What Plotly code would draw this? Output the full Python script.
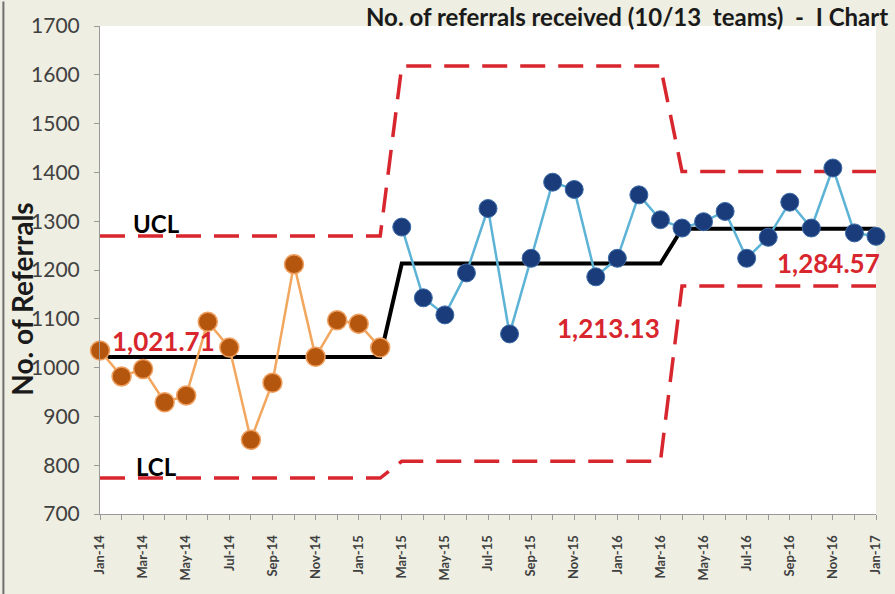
import plotly.graph_objects as go

months = ["Jan-14","Feb-14","Mar-14","Apr-14","May-14","Jun-14","Jul-14","Aug-14","Sep-14","Oct-14","Nov-14","Dec-14",
          "Jan-15","Feb-15","Mar-15","Apr-15","May-15","Jun-15","Jul-15","Aug-15","Sep-15","Oct-15","Nov-15","Dec-15",
          "Jan-16","Feb-16","Mar-16","Apr-16","May-16","Jun-16","Jul-16","Aug-16","Sep-16","Oct-16","Nov-16","Dec-16",
          "Jan-17"]

baseline_values = [1035, 982, 997, 929, 943, 1094, 1041, 852, 969, 1212, 1022, 1097, 1090, 1041]
recent_values = [1288, 1143, 1108, 1194, 1326, 1069, 1224, 1380, 1365, 1186, 1224, 1354, 1303,
                 1286, 1299, 1320, 1224, 1267, 1339, 1286, 1409, 1276, 1269]

seg_start = [0, 14, 27]
seg_end = [13, 26, 36]
seg_mean = [1021.71, 1213.13, 1284.57]
seg_ucl = [1269.7, 1618.0, 1402.0]
seg_lcl = [773.7, 808.0, 1167.0]
mean_labels = ["1,021.71", "1,213.13", "1,284.57"]

y_ticks = [700, 800, 900, 1000, 1100, 1200, 1300, 1400, 1500, 1600, 1700]

idx = list(range(len(months)))
x_base = idx[:len(baseline_values)]
x_recent = idx[len(baseline_values):len(baseline_values) + len(recent_values)]

def step(vals):
    xs, ys = [], []
    for s, e, v in zip(seg_start, seg_end, vals):
        xs += [s, e]
        ys += [v, v]
    return xs, ys

fig = go.Figure()
red = "#D8262E"
for vals in (seg_ucl, seg_lcl):
    xs, ys = step(vals)
    fig.add_trace(go.Scatter(x=xs, y=ys, mode="lines",
                             line=dict(color=red, width=3.5, dash="25px,13px"),
                             hoverinfo="skip", showlegend=False))

xs, ys = step(seg_mean)
fig.add_trace(go.Scatter(x=xs, y=ys, mode="lines", line=dict(color="black", width=4),
                         showlegend=False))

fig.add_trace(go.Scatter(x=x_base, y=baseline_values, mode="lines+markers",
                         line=dict(color="#F2A65E", width=2.5),
                         marker=dict(size=19, color="#B5560F", line=dict(color="#EFA060", width=1.5)),
                         cliponaxis=False, showlegend=False))
fig.add_trace(go.Scatter(x=x_recent, y=recent_values, mode="lines+markers",
                         line=dict(color="#5DB3D5", width=2.5),
                         marker=dict(size=18, color="#1B3C7A", line=dict(color="#3A6AA8", width=1)),
                         cliponaxis=False, showlegend=False))

annots = []
annots.append(dict(x=2.6, y=1296, text="<b>UCL</b>", showarrow=False, font=dict(size=24, color="black")))
annots.append(dict(x=2.6, y=798, text="<b>LCL</b>", showarrow=False, font=dict(size=24, color="black")))
for (xx, yy), lab in zip([(2.95, 1055), (23.6, 1081), (33.8, 1214)], mean_labels):
    annots.append(dict(x=xx, y=yy, text="<b>" + lab + "</b>", showarrow=False,
                       font=dict(size=26, color=red)))
annots.append(dict(xref="paper", yref="paper", x=1.018, y=1.02, xanchor="right", yanchor="middle",
                   text="<b>No. of referrals received (10/13  teams)  -  I Chart</b>", showarrow=False,
                   font=dict(size=24, color="#1a1a1a")))
annots.append(dict(xref="paper", yref="paper", x=-0.1, y=0.44, textangle=-90,
                   xanchor="center", yanchor="middle",
                   text="<b>No. of Referrals</b>", showarrow=False,
                   font=dict(size=28, color="#1a1a1a")))

fig.update_layout(
    width=895, height=594,
    margin=dict(l=100, r=16, t=22, b=80),
    paper_bgcolor="#EEEEE2", plot_bgcolor="white",
    font=dict(family="Lato, Open Sans, sans-serif", color="#404040"),
    annotations=annots,
    shapes=[dict(type="line", xref="paper", yref="paper", x0=-0.1245, x1=-0.1245, y0=-0.17, y1=1.05,
                 line=dict(color="#707070", width=2))],
)
fig.update_xaxes(range=[0, 36], tickmode="array", tickvals=idx[::2],
                 ticktext=["<b>" + m + "</b>" for m in months[::2]],
                 tickangle=-90, tickfont=dict(size=13, color="#404040"), ticklabelstandoff=10,
                 showgrid=False, zeroline=False, showline=True, linecolor="#999999", linewidth=1,
                 ticks="outside", ticklen=5, tickcolor="#999999",
                 minor=dict(tickvals=idx, ticks="outside", ticklen=5, tickcolor="#999999"))
fig.update_yaxes(range=[700, 1700], tickvals=y_ticks, tickfont=dict(size=21, color="#404040"),
                 ticklabelstandoff=10,
                 showgrid=False, zeroline=False, showline=True, linecolor="#999999", linewidth=1,
                 ticks="outside", ticklen=5, tickcolor="#999999")

fig.write_html("out.html", config={"displayModeBar": False},
               post_script="document.body.style.margin='0';document.body.style.background='#EEEEE2';")
